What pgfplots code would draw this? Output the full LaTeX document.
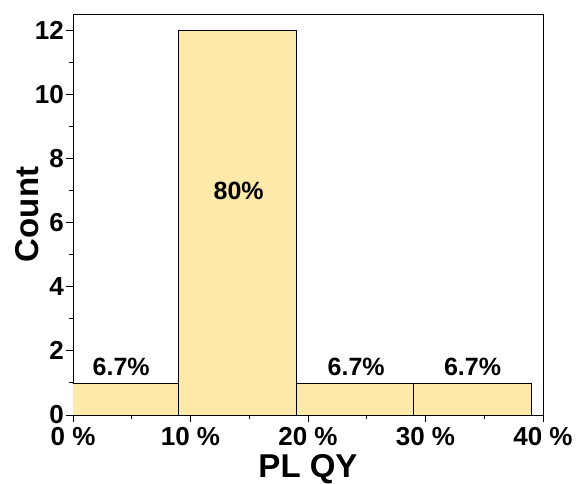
\documentclass[border=0pt]{standalone}
\usepackage{pgfplots}
\pgfplotsset{compat=1.18}
\usepackage{fontspec}
\setmainfont{Liberation Sans}
\definecolor{barfill}{HTML}{FDE9AA}
\begin{document}
\begin{tikzpicture}
\begin{axis}[
  scale only axis, width=470pt, height=401pt,
  xmin=0, xmax=40, ymin=0, ymax=12.5,
  axis line style={line width=0.9pt},
  xtick={0,10,20,30,40},
  xticklabels={0 \%,10 \%,20 \%,30 \%,40 \%},
  minor xtick={5,15,25,35},
  ytick={0,2,4,6,8,10,12},
  minor ytick={1,3,5,7,9,11},
  tick align=outside, tick pos=left,
  major tick length=7pt, minor tick length=4pt,
  every tick/.style={black, line width=0.9pt},
  /pgf/number format/assume math mode=true,
  ticklabel style={font=\fontsize{26}{30}\selectfont\bfseries, inner sep=1pt},
  xticklabel style={yshift=-4pt},
  yticklabel style={xshift=-1pt},
  xlabel={PL QY}, ylabel={Count},
  label style={font=\fontsize{33}{38}\selectfont\bfseries},
  xlabel style={at={(axis description cs:0.5,0)}, anchor=base, yshift=-62pt},
  ylabel style={yshift=-8pt},
  clip=true,
]
\addplot[ybar interval, fill=barfill, draw=black, line width=0.7pt]
  coordinates {(-1,1) (9,12) (19,1) (29,1) (39,1)};
\addplot[only marks, mark=none, nodes near coords, point meta=explicit symbolic,
  nodes near coords style={font=\fontsize{25}{29}\selectfont\bfseries, anchor=center}]
  coordinates {(4.1,1.5)[6.7\%] (14.1,7.0)[80\%] (24.1,1.5)[6.7\%] (34.0,1.5)[6.7\%]};
\end{axis}
\pgfresetboundingbox
\path (current axis.south west) ++(-73pt,-68pt) coordinate (bl);
\path (current axis.north east) ++(33pt,14pt) coordinate (tr);
\path (bl) rectangle (tr);
\end{tikzpicture}
\end{document}
